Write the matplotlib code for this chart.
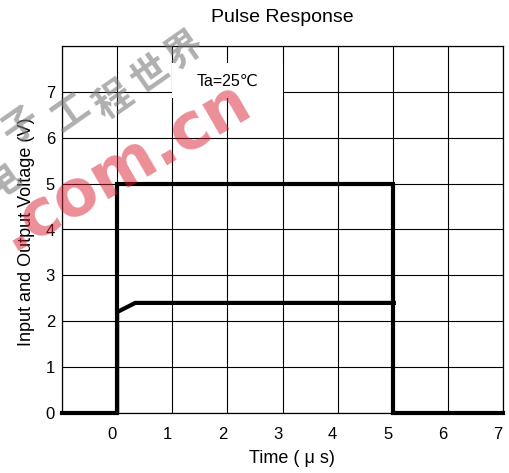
import matplotlib
matplotlib.use("Agg")
import matplotlib.pyplot as plt
from matplotlib.patches import Rectangle
import matplotlib.transforms as mtransforms

plt.rcParams['font.family'] = ['Liberation Sans', 'DejaVu Sans', 'Noto Sans CJK SC']

# ---- data ----
input_t = [-1, 0.0, 0.0, 5.0, 5.0, 7]
input_v = [0, 0, 5, 5, 0, 0]
output_t = [0.0, 0.0, 0.33, 5.02]
output_v = [0, 2.2, 2.4, 2.4]
x_ticks = [0, 1, 2, 3, 4, 5, 6, 7]
y_ticks = [0, 1, 2, 3, 4, 5, 6, 7]
title = "Pulse Response"
xlabel = "Time ( μ s)"
ylabel = "Input and Output Voltage (V)"
annot = "Ta=25℃"

W, H = 509, 473
fig = plt.figure(figsize=(W / 100, H / 100), dpi=100)
ax = fig.add_axes([62 / W, 1 - 413 / H, 441 / W, 367 / H])

ax.set_xlim(-1, 7)
ax.set_ylim(0, 8)
ax.set_xticks(range(-1, 8))
ax.set_yticks(range(0, 9))
ax.grid(True, color='black', linewidth=0.8)
ax.set_axisbelow(True)
for s in ax.spines.values():
    s.set_linewidth(0.9)
    s.set_color('black')

ax.set_xticklabels([str(t) if t in x_ticks else '' for t in range(-1, 8)], fontsize=12)
ax.set_yticklabels([str(t) if t in y_ticks else '' for t in range(0, 9)], fontsize=12)
ax.tick_params(length=0, pad=5)
ax.tick_params(axis='x', pad=10)
off = mtransforms.ScaledTranslation(-5 / 100, 0, fig.dpi_scale_trans)
for lab in ax.get_xticklabels():
    lab.set_transform(lab.get_transform() + off)

# annotation box
ax.add_patch(Rectangle((1.0, 6.86), 2.0, 0.78, facecolor='white', edgecolor='none', zorder=2))
ax.text(2.0, 7.22, annot, ha='center', va='center', fontsize=11.5, zorder=3,
        family=['Liberation Sans', 'DejaVu Sans'])

ax.plot(input_t, input_v, color='black', linewidth=3.0, solid_joinstyle='miter', zorder=4, clip_on=False)
ax.plot(output_t, output_v, color='black', linewidth=3.0, solid_joinstyle='miter', zorder=4)

fig.text(282 / W, 1 - 17 / H, title, ha='center', va='center', fontsize=14)
fig.text(292 / W, 1 - 458 / H, xlabel, ha='center', va='center', fontsize=13)
fig.text(27 / W, 1 - 232 / H, ylabel, ha='center', va='center', rotation=90, fontsize=13)

# watermark
fig.text(133 / W, 1 - 181 / H, ".com.cn", ha='center', va='baseline', rotation=30,
         rotation_mode='anchor', fontsize=46, fontweight='bold', color='#d81e32',
         alpha=0.5, zorder=10, family=['DejaVu Sans'])
chars = "电子工程世界"
pos = [(2, 180), (20, 125), (70, 112), (113, 100), (150, 75), (185, 50)]
for ch, (px, py) in zip(chars, pos):
    fig.text(px / W, 1 - py / H, ch, ha='center', va='center', rotation=35,
             fontsize=27, fontweight='heavy', color='#7a7a7a', alpha=0.6, zorder=10,
             family=['Noto Sans CJK SC'])

fig.savefig("out.png", dpi=100)
